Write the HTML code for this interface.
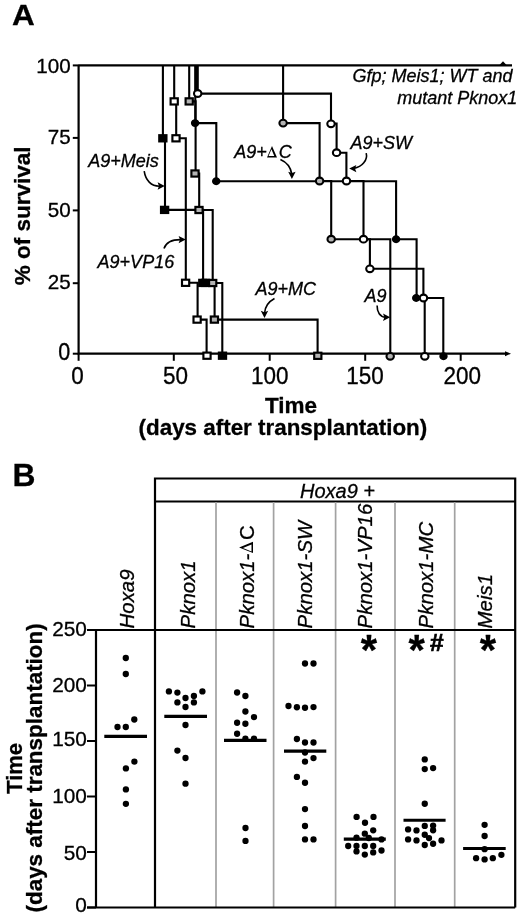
<!DOCTYPE html>
<html><head><meta charset="utf-8"><title>Figure</title>
<style>
html,body{margin:0;padding:0;background:#fff;}
body{width:520px;height:919px;overflow:hidden;}
svg{display:block;filter:grayscale(100%);}
text{font-family:"Liberation Sans", sans-serif;fill:#000;stroke:#000;stroke-width:0.3px;}
</style></head>
<body>
<svg width="520" height="919" viewBox="0 0 520 919">
<rect width="520" height="919" fill="#fff"/>
<text transform="translate(12.1,25.3) scale(1,0.94)" font-size="31.5" font-weight="bold">A</text>
<path d="M78.6,65.4 V353.7 H506" stroke="#000" stroke-width="2.2" fill="none"/>
<path d="M505,351.2 L511,353.7 L505,356.2 Z" fill="#000"/>
<line x1="72.8" y1="65.4" x2="79" y2="65.4" stroke="#000" stroke-width="2"/>
<text x="70.6" y="73.0" font-size="20.6" font-weight="normal" font-style="normal" text-anchor="end" >100</text>
<line x1="72.8" y1="137.9" x2="79" y2="137.9" stroke="#000" stroke-width="2"/>
<text x="70.6" y="144.4" font-size="20.6" font-weight="normal" font-style="normal" text-anchor="end" >75</text>
<line x1="72.8" y1="210.4" x2="79" y2="210.4" stroke="#000" stroke-width="2"/>
<text x="70.6" y="217.1" font-size="20.6" font-weight="normal" font-style="normal" text-anchor="end" >50</text>
<line x1="72.8" y1="283.2" x2="79" y2="283.2" stroke="#000" stroke-width="2"/>
<text x="70.6" y="288.7" font-size="20.6" font-weight="normal" font-style="normal" text-anchor="end" >25</text>
<line x1="72.8" y1="353.7" x2="79" y2="353.7" stroke="#000" stroke-width="2"/>
<text transform="translate(64.1,360.0) scale(1,1.13)" font-size="21.5" text-anchor="middle">0</text>
<line x1="78.6" y1="353.7" x2="78.6" y2="360.8" stroke="#000" stroke-width="2"/>
<text transform="translate(77.6,383.7) scale(1,1.1)" font-size="22.5" text-anchor="middle">0</text>
<line x1="173.8" y1="353.7" x2="173.8" y2="360.8" stroke="#000" stroke-width="2"/>
<text transform="translate(175.4,383.7) scale(1,1.1)" font-size="22.5" text-anchor="middle">50</text>
<line x1="269.7" y1="353.7" x2="269.7" y2="360.8" stroke="#000" stroke-width="2"/>
<text transform="translate(269.8,383.7) scale(1,1.1)" font-size="22.5" text-anchor="middle">100</text>
<line x1="365.2" y1="353.7" x2="365.2" y2="360.8" stroke="#000" stroke-width="2"/>
<text transform="translate(365.0,383.7) scale(1,1.1)" font-size="22.5" text-anchor="middle">150</text>
<line x1="460.7" y1="353.7" x2="460.7" y2="360.8" stroke="#000" stroke-width="2"/>
<text transform="translate(462.2,383.7) scale(1,1.1)" font-size="22.5" text-anchor="middle">200</text>
<text transform="translate(30.2,215.9) rotate(-90)" x="0" y="0" font-size="22.5" font-weight="bold" font-style="normal" text-anchor="middle" >% of survival</text>
<text x="291.0" y="412.8" font-size="22.5" font-weight="bold" font-style="normal" text-anchor="middle" >Time</text>
<text x="282.9" y="434.8" font-size="22.4" font-weight="bold" font-style="normal" text-anchor="middle" >(days after transplantation)</text>
<path d="M78.6,65.4 H512" stroke="#000" stroke-width="2.4" fill="none"/>
<line x1="196.4" y1="65" x2="196.4" y2="92" stroke="#000" stroke-width="3.6"/>
<path d="M499,65.4 L503,61.2 L507,65.4 Z" fill="#000"/>
<path d="M162.9,65.4 H162.9 V138.3 H165 V209.9 H203.1 V283 H222.3 V355.5" stroke="#000" stroke-width="2.1" fill="none" stroke-linejoin="miter"/>
<path d="M174.2,65.4 H174.2 V101.4 H176.2 V138.3 H185.8 V282.8 H197.6 V319.6 H206.6 V355.5" stroke="#000" stroke-width="2.1" fill="none" stroke-linejoin="miter"/>
<path d="M189.2,65.4 H189.2 V101.4 H195.6 V173.5 H199.2 V210 H212.7 V283 H214.6 V319.6 H317.6 V355.5" stroke="#000" stroke-width="2.1" fill="none" stroke-linejoin="miter"/>
<path d="M195.3,65.4 H195.3 V123.1 H216.3 V181.2 H396.1 V239.2 H416.6 V298 H443.3 V355.5" stroke="#000" stroke-width="2.1" fill="none" stroke-linejoin="miter"/>
<path d="M197.7,65.4 H197.7 V93.6 H331 V123.6 H336.6 V152.7 H346.4 V181 H363.5 V239.2 H369.9 V268.7 H423.4 V298 H424.7 V355.5" stroke="#000" stroke-width="2.1" fill="none" stroke-linejoin="miter"/>
<path d="M283.1,65.4 H283.1 V123.1 H319.6 V181 H331.2 V239.2 H390.3 V355.5" stroke="#000" stroke-width="2.1" fill="none" stroke-linejoin="miter"/>
<rect x="159.25" y="135.20" width="7.2" height="6.2" fill="#000" stroke="#000" stroke-width="2.15"/>
<rect x="161.00" y="206.80" width="7.2" height="6.2" fill="#000" stroke="#000" stroke-width="2.15"/>
<rect x="199.20" y="279.80" width="7.2" height="6.2" fill="#000" stroke="#000" stroke-width="2.15"/>
<rect x="202.00" y="279.80" width="7.2" height="6.2" fill="#000" stroke="#000" stroke-width="2.15"/>
<rect x="218.90" y="352.60" width="7.2" height="6.2" fill="#000" stroke="#000" stroke-width="2.15"/>
<rect x="170.60" y="98.30" width="7.2" height="6.2" fill="#fff" stroke="#000" stroke-width="2.15"/>
<rect x="172.40" y="135.20" width="7.2" height="6.2" fill="#fff" stroke="#000" stroke-width="2.15"/>
<rect x="182.00" y="279.70" width="7.2" height="6.2" fill="#fff" stroke="#000" stroke-width="2.15"/>
<rect x="193.50" y="316.50" width="7.2" height="6.2" fill="#fff" stroke="#000" stroke-width="2.15"/>
<rect x="203.40" y="352.60" width="7.2" height="6.2" fill="#fff" stroke="#000" stroke-width="2.15"/>
<rect x="185.60" y="98.30" width="7.2" height="6.2" fill="#b3b3b3" stroke="#000" stroke-width="2.15"/>
<rect x="191.40" y="170.40" width="7.2" height="6.2" fill="#b3b3b3" stroke="#000" stroke-width="2.15"/>
<rect x="195.40" y="206.90" width="7.2" height="6.2" fill="#b3b3b3" stroke="#000" stroke-width="2.15"/>
<rect x="209.10" y="279.90" width="7.2" height="6.2" fill="#b3b3b3" stroke="#000" stroke-width="2.15"/>
<rect x="210.80" y="316.50" width="7.2" height="6.2" fill="#b3b3b3" stroke="#000" stroke-width="2.15"/>
<rect x="314.20" y="352.70" width="7.2" height="6.2" fill="#b3b3b3" stroke="#000" stroke-width="2.15"/>
<ellipse cx="195.1" cy="123.1" rx="3.4" ry="3.15" fill="#000" stroke="#000" stroke-width="1.6"/>
<ellipse cx="216.2" cy="181.2" rx="3.4" ry="3.15" fill="#000" stroke="#000" stroke-width="1.6"/>
<ellipse cx="396.1" cy="239.2" rx="3.4" ry="3.15" fill="#000" stroke="#000" stroke-width="1.6"/>
<ellipse cx="416.2" cy="298" rx="3.4" ry="3.15" fill="#000" stroke="#000" stroke-width="1.6"/>
<ellipse cx="443.5" cy="356.3" rx="3.4" ry="3.15" fill="#000" stroke="#000" stroke-width="1.6"/>
<ellipse cx="197.7" cy="93.5" rx="3.7" ry="3.35" fill="#fff" stroke="#000" stroke-width="2.1"/>
<ellipse cx="331" cy="123.8" rx="3.7" ry="3.35" fill="#fff" stroke="#000" stroke-width="2.1"/>
<ellipse cx="336.6" cy="152.7" rx="3.7" ry="3.35" fill="#fff" stroke="#000" stroke-width="2.1"/>
<ellipse cx="346.5" cy="181" rx="3.7" ry="3.35" fill="#fff" stroke="#000" stroke-width="2.1"/>
<ellipse cx="363.5" cy="239.2" rx="3.7" ry="3.35" fill="#fff" stroke="#000" stroke-width="2.1"/>
<ellipse cx="369.9" cy="268.8" rx="3.7" ry="3.35" fill="#fff" stroke="#000" stroke-width="2.1"/>
<ellipse cx="423.5" cy="298" rx="3.7" ry="3.35" fill="#fff" stroke="#000" stroke-width="2.1"/>
<ellipse cx="424.8" cy="356.3" rx="3.7" ry="3.35" fill="#fff" stroke="#000" stroke-width="2.1"/>
<ellipse cx="283.1" cy="123.1" rx="3.7" ry="3.35" fill="#b3b3b3" stroke="#000" stroke-width="2.1"/>
<ellipse cx="319.6" cy="181" rx="3.7" ry="3.35" fill="#b3b3b3" stroke="#000" stroke-width="2.1"/>
<ellipse cx="331.2" cy="239.2" rx="3.7" ry="3.35" fill="#b3b3b3" stroke="#000" stroke-width="2.1"/>
<ellipse cx="390.2" cy="356.3" rx="3.7" ry="3.35" fill="#b3b3b3" stroke="#000" stroke-width="2.1"/>
<text x="88.3" y="166.6" font-size="18" font-weight="normal" font-style="italic" text-anchor="start" >A9+Meis</text>
<text x="97.6" y="268.1" font-size="18" font-weight="normal" font-style="italic" text-anchor="start" >A9+VP16</text>
<text x="234.2" y="157.8" font-size="18" font-weight="normal" font-style="italic" text-anchor="start" >A9+<tspan font-style="normal" style="fill:none;stroke:none">&#916;</tspan>C</text>
<path d="M272.00,145.90 L277.00,157.50 L267.00,157.50 Z M271.43,149.37 L268.57,156.00 L274.28,156.00 Z" fill="#000" fill-rule="evenodd"/>
<text x="350.5" y="149" font-size="18" font-weight="normal" font-style="italic" text-anchor="start" >A9+SW</text>
<text x="255.6" y="295.2" font-size="18" font-weight="normal" font-style="italic" text-anchor="start" >A9+MC</text>
<text x="364.4" y="301.8" font-size="18" font-weight="normal" font-style="italic" text-anchor="start" >A9</text>
<text x="512.5" y="82.4" font-size="18" font-weight="normal" font-style="italic" text-anchor="end" >Gfp; Meis1; WT and</text>
<text x="517.4" y="103.9" font-size="18" font-weight="normal" font-style="italic" text-anchor="end" >mutant Pknox1</text>
<path d="M144.2,171.2 C145.5,180 151,186.5 160,186.2" stroke="#000" stroke-width="1.6" fill="none"/>
<path d="M0.6,0 L-6.6,-3.7 L-5.2,0 L-6.6,3.7 Z" fill="#000" transform="translate(164.2,186) rotate(0)"/>
<path d="M164,248.6 C166,242 172,239.5 181,239.6" stroke="#000" stroke-width="1.6" fill="none"/>
<path d="M0.6,0 L-6.6,-3.7 L-5.2,0 L-6.6,3.7 Z" fill="#000" transform="translate(185.2,239.6) rotate(0)"/>
<path d="M280.4,159.6 C286,162 290.5,167 291.8,174" stroke="#000" stroke-width="1.6" fill="none"/>
<path d="M0.6,0 L-6.6,-3.7 L-5.2,0 L-6.6,3.7 Z" fill="#000" transform="translate(291.9,178.3) rotate(90)"/>
<path d="M366.2,153.1 C368,160 362,167 354,168.4" stroke="#000" stroke-width="1.6" fill="none"/>
<path d="M0.6,0 L-6.6,-3.7 L-5.2,0 L-6.6,3.7 Z" fill="#000" transform="translate(349.8,168.6) rotate(180)"/>
<path d="M274.5,298.5 C268,302 265,307 264.6,313" stroke="#000" stroke-width="1.6" fill="none"/>
<path d="M0.6,0 L-6.6,-3.7 L-5.2,0 L-6.6,3.7 Z" fill="#000" transform="translate(264.5,317.4) rotate(90)"/>
<path d="M377.1,305.4 C377,312 380,317 385.5,317.2" stroke="#000" stroke-width="1.6" fill="none"/>
<path d="M0.6,0 L-6.6,-3.7 L-5.2,0 L-6.6,3.7 Z" fill="#000" transform="translate(389.6,317.2) rotate(0)"/>
<text x="12.6" y="486.2" font-size="31.8" font-weight="bold" font-style="normal" text-anchor="start" >B</text>
<path d="M155,907.5 V478.5 H515.2 V907.5" stroke="#000" stroke-width="2.2" fill="none"/>
<line x1="155" y1="501.5" x2="515.2" y2="501.5" stroke="#000" stroke-width="2.2"/>
<text x="300" y="497.6" font-size="20" font-weight="normal" font-style="italic" text-anchor="start" >Hoxa9 +</text>
<line x1="216" y1="502" x2="216" y2="907" stroke="#a2a2a2" stroke-width="1.7"/>
<line x1="273.6" y1="502" x2="273.6" y2="907" stroke="#a2a2a2" stroke-width="1.7"/>
<line x1="335.6" y1="502" x2="335.6" y2="907" stroke="#a2a2a2" stroke-width="1.7"/>
<line x1="395" y1="502" x2="395" y2="907" stroke="#a2a2a2" stroke-width="1.7"/>
<line x1="454.7" y1="502" x2="454.7" y2="907" stroke="#a2a2a2" stroke-width="1.7"/>
<path d="M96,630 V907.5" stroke="#000" stroke-width="2.2" fill="none"/>
<line x1="87" y1="630" x2="515.2" y2="630" stroke="#000" stroke-width="2.2"/>
<line x1="87" y1="907.5" x2="515.2" y2="907.5" stroke="#000" stroke-width="2.2"/>
<line x1="87" y1="907.5" x2="96" y2="907.5" stroke="#000" stroke-width="2"/>
<text x="86.9" y="911.6" font-size="20.8" font-weight="normal" font-style="normal" text-anchor="end" >0</text>
<line x1="87" y1="852.0" x2="96" y2="852.0" stroke="#000" stroke-width="2"/>
<text x="86.9" y="859.5" font-size="20.8" font-weight="normal" font-style="normal" text-anchor="end" >50</text>
<line x1="87" y1="796.5" x2="96" y2="796.5" stroke="#000" stroke-width="2"/>
<text x="86.9" y="802.6" font-size="20.8" font-weight="normal" font-style="normal" text-anchor="end" >100</text>
<line x1="87" y1="741.0" x2="96" y2="741.0" stroke="#000" stroke-width="2"/>
<text x="86.9" y="746.4" font-size="20.8" font-weight="normal" font-style="normal" text-anchor="end" >150</text>
<line x1="87" y1="685.5" x2="96" y2="685.5" stroke="#000" stroke-width="2"/>
<text x="86.9" y="691.8" font-size="20.8" font-weight="normal" font-style="normal" text-anchor="end" >200</text>
<line x1="87" y1="630.0" x2="96" y2="630.0" stroke="#000" stroke-width="2"/>
<text x="86.9" y="636.0" font-size="20.8" font-weight="normal" font-style="normal" text-anchor="end" >250</text>
<text transform="translate(133.5,628.4) rotate(-90)" x="0" y="0" font-size="20.4" font-weight="normal" font-style="italic" text-anchor="start" >Hoxa9</text>
<text transform="translate(194.8,628.4) rotate(-90)" x="0" y="0" font-size="20.4" font-weight="normal" font-style="italic" text-anchor="start" >Pknox1</text>
<text transform="translate(253.6,628.4) rotate(-90)" x="0" y="0" font-size="20.4" font-weight="normal" font-style="italic" text-anchor="start" >Pknox1-<tspan font-style="normal" style="fill:none;stroke:none">&#916;</tspan><tspan font-style="normal">C</tspan></text>
<text transform="translate(312.3,628.4) rotate(-90)" x="0" y="0" font-size="20.4" font-weight="normal" font-style="italic" text-anchor="start" >Pknox1-SW</text>
<text transform="translate(372.1,628.4) rotate(-90)" x="0" y="0" font-size="20.4" font-weight="normal" font-style="italic" text-anchor="start" >Pknox1-VP16</text>
<text transform="translate(432.9,628.4) rotate(-90)" x="0" y="0" font-size="20.4" font-weight="normal" font-style="italic" text-anchor="start" >Pknox1-MC</text>
<text transform="translate(492.3,628.4) rotate(-90)" x="0" y="0" font-size="20.4" font-weight="normal" font-style="italic" text-anchor="start" >Meis1</text>
<path transform="translate(253.6,628.4) rotate(-90)" d="M81.00,-14.50 L86.60,-0.60 L75.50,-0.60 Z M80.39,-10.66 L77.01,-2.10 L83.84,-2.10 Z" fill="#000" fill-rule="evenodd"/>
<text transform="translate(22.4,768.4) rotate(-90)" x="0" y="0" font-size="22" font-weight="bold" font-style="normal" text-anchor="middle" >Time</text>
<text transform="translate(42.3,767.9) rotate(-90)" x="0" y="0" font-size="22.45" font-weight="bold" font-style="normal" text-anchor="middle" >(days after transplantation)</text>
<text x="368.85" y="664" font-size="42" font-weight="bold" font-style="normal" text-anchor="middle" >*</text>
<text x="416.65" y="664" font-size="42" font-weight="bold" font-style="normal" text-anchor="middle" >*</text>
<text x="436.8" y="650.6" font-size="24.5" font-weight="bold" font-style="normal" text-anchor="middle" style="stroke-width:0.7px">#</text>
<text x="488" y="664" font-size="42" font-weight="bold" font-style="normal" text-anchor="middle" >*</text>
<circle cx="125.8" cy="658" r="3.15" fill="#000"/>
<circle cx="125.8" cy="674" r="3.15" fill="#000"/>
<circle cx="134.3" cy="719.5" r="3.15" fill="#000"/>
<circle cx="117.5" cy="727" r="3.15" fill="#000"/>
<circle cx="125.8" cy="727" r="3.15" fill="#000"/>
<circle cx="134.4" cy="761.6" r="3.15" fill="#000"/>
<circle cx="125.9" cy="768.4" r="3.15" fill="#000"/>
<circle cx="125.9" cy="789.4" r="3.15" fill="#000"/>
<circle cx="125.9" cy="803.8" r="3.15" fill="#000"/>
<circle cx="168.9" cy="691.4" r="3.15" fill="#000"/>
<circle cx="177.4" cy="692.6" r="3.15" fill="#000"/>
<circle cx="202.4" cy="691.4" r="3.15" fill="#000"/>
<circle cx="185.5" cy="698" r="3.15" fill="#000"/>
<circle cx="193.9" cy="696" r="3.15" fill="#000"/>
<circle cx="177.4" cy="702.4" r="3.15" fill="#000"/>
<circle cx="193.9" cy="702.4" r="3.15" fill="#000"/>
<circle cx="185.5" cy="707" r="3.15" fill="#000"/>
<circle cx="185.5" cy="725" r="3.15" fill="#000"/>
<circle cx="177.4" cy="750.6" r="3.15" fill="#000"/>
<circle cx="185.5" cy="758" r="3.15" fill="#000"/>
<circle cx="185.5" cy="783.7" r="3.15" fill="#000"/>
<circle cx="237.1" cy="692.5" r="3.15" fill="#000"/>
<circle cx="245.4" cy="696" r="3.15" fill="#000"/>
<circle cx="245.4" cy="711.5" r="3.15" fill="#000"/>
<circle cx="254" cy="717.1" r="3.15" fill="#000"/>
<circle cx="237.1" cy="722.75" r="3.15" fill="#000"/>
<circle cx="245.4" cy="723.75" r="3.15" fill="#000"/>
<circle cx="237.1" cy="733.75" r="3.15" fill="#000"/>
<circle cx="245.4" cy="738.75" r="3.15" fill="#000"/>
<circle cx="254" cy="738.75" r="3.15" fill="#000"/>
<circle cx="245.5" cy="828" r="3.15" fill="#000"/>
<circle cx="245.5" cy="840.9" r="3.15" fill="#000"/>
<circle cx="305" cy="663.5" r="3.15" fill="#000"/>
<circle cx="313.5" cy="663.5" r="3.15" fill="#000"/>
<circle cx="288.5" cy="706" r="3.15" fill="#000"/>
<circle cx="296.9" cy="707.25" r="3.15" fill="#000"/>
<circle cx="305" cy="707.75" r="3.15" fill="#000"/>
<circle cx="313.5" cy="707.1" r="3.15" fill="#000"/>
<circle cx="296.9" cy="739" r="3.15" fill="#000"/>
<circle cx="305" cy="742.5" r="3.15" fill="#000"/>
<circle cx="313.5" cy="742.5" r="3.15" fill="#000"/>
<circle cx="305" cy="752.5" r="3.15" fill="#000"/>
<circle cx="313.5" cy="758.1" r="3.15" fill="#000"/>
<circle cx="305" cy="761.6" r="3.15" fill="#000"/>
<circle cx="296.9" cy="776.9" r="3.15" fill="#000"/>
<circle cx="305" cy="782.75" r="3.15" fill="#000"/>
<circle cx="305" cy="809.1" r="3.15" fill="#000"/>
<circle cx="305" cy="826" r="3.15" fill="#000"/>
<circle cx="305" cy="839.4" r="3.15" fill="#000"/>
<circle cx="313.5" cy="839.4" r="3.15" fill="#000"/>
<circle cx="356.6" cy="816.9" r="3.15" fill="#000"/>
<circle cx="373.5" cy="816.9" r="3.15" fill="#000"/>
<circle cx="365" cy="822.75" r="3.15" fill="#000"/>
<circle cx="373.2" cy="830.3" r="3.15" fill="#000"/>
<circle cx="364.8" cy="833.7" r="3.15" fill="#000"/>
<circle cx="356.5" cy="837.7" r="3.15" fill="#000"/>
<circle cx="368.8" cy="838" r="3.15" fill="#000"/>
<circle cx="381.5" cy="839.4" r="3.15" fill="#000"/>
<circle cx="348.2" cy="846" r="3.15" fill="#000"/>
<circle cx="356.5" cy="846" r="3.15" fill="#000"/>
<circle cx="364.8" cy="846" r="3.15" fill="#000"/>
<circle cx="373.2" cy="846" r="3.15" fill="#000"/>
<circle cx="356.5" cy="851.4" r="3.15" fill="#000"/>
<circle cx="381.5" cy="850.5" r="3.15" fill="#000"/>
<circle cx="373.2" cy="852.4" r="3.15" fill="#000"/>
<circle cx="364.8" cy="854.6" r="3.15" fill="#000"/>
<circle cx="424.75" cy="759.4" r="3.15" fill="#000"/>
<circle cx="424.75" cy="769.1" r="3.15" fill="#000"/>
<circle cx="433.1" cy="768.1" r="3.15" fill="#000"/>
<circle cx="424.75" cy="803.75" r="3.15" fill="#000"/>
<circle cx="424.75" cy="825.9" r="3.15" fill="#000"/>
<circle cx="433.1" cy="825.6" r="3.15" fill="#000"/>
<circle cx="433.1" cy="830.25" r="3.15" fill="#000"/>
<circle cx="408.1" cy="829.4" r="3.15" fill="#000"/>
<circle cx="416.5" cy="830.4" r="3.15" fill="#000"/>
<circle cx="424.75" cy="834.75" r="3.15" fill="#000"/>
<circle cx="429" cy="838.1" r="3.15" fill="#000"/>
<circle cx="408.1" cy="839.4" r="3.15" fill="#000"/>
<circle cx="416.5" cy="840.4" r="3.15" fill="#000"/>
<circle cx="441.5" cy="840.4" r="3.15" fill="#000"/>
<circle cx="433.1" cy="843.75" r="3.15" fill="#000"/>
<circle cx="424.75" cy="845" r="3.15" fill="#000"/>
<circle cx="484.6" cy="824.8" r="3.15" fill="#000"/>
<circle cx="484.6" cy="836" r="3.15" fill="#000"/>
<circle cx="484.6" cy="849.2" r="3.15" fill="#000"/>
<circle cx="476.1" cy="858.2" r="3.15" fill="#000"/>
<circle cx="484.6" cy="859.4" r="3.15" fill="#000"/>
<circle cx="492.8" cy="858.2" r="3.15" fill="#000"/>
<circle cx="501.4" cy="854.8" r="3.15" fill="#000"/>
<line x1="104.3" y1="736.4" x2="147" y2="736.4" stroke="#000" stroke-width="3.2"/>
<line x1="164.3" y1="716.4" x2="207" y2="716.4" stroke="#000" stroke-width="3.2"/>
<line x1="224" y1="740.4" x2="266.5" y2="740.4" stroke="#000" stroke-width="3.2"/>
<line x1="284" y1="751.2" x2="326.3" y2="751.2" stroke="#000" stroke-width="3.2"/>
<line x1="343.8" y1="839.2" x2="385.8" y2="839.2" stroke="#000" stroke-width="3.2"/>
<line x1="403.5" y1="820.25" x2="445.6" y2="820.25" stroke="#000" stroke-width="3.2"/>
<line x1="463.1" y1="848.5" x2="505.7" y2="848.5" stroke="#000" stroke-width="3.2"/>
</svg>
</body></html>
